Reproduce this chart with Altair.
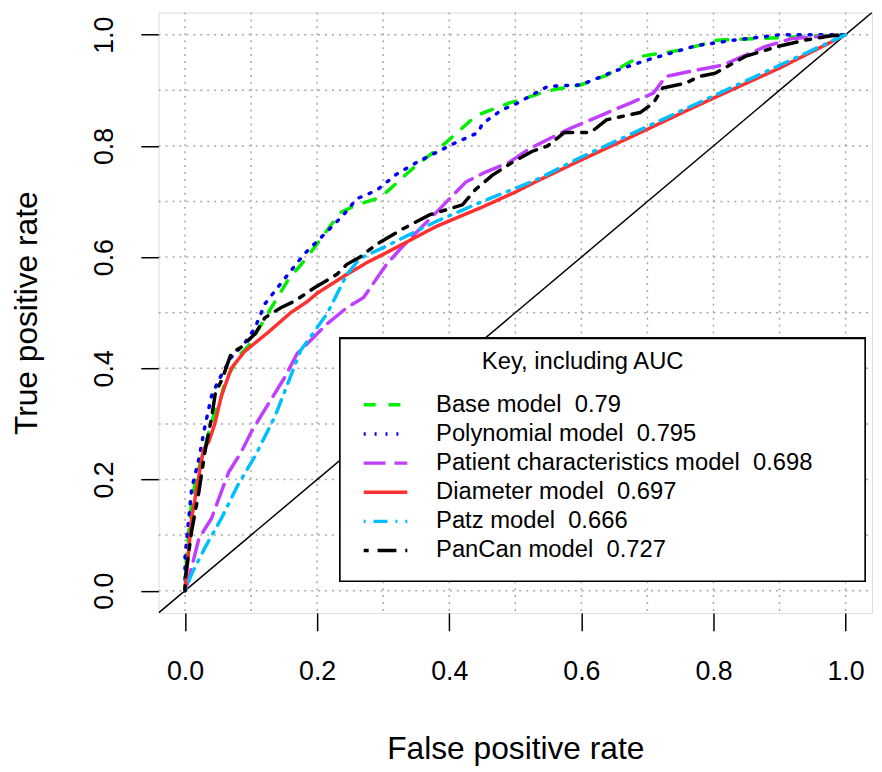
import altair as alt
import pandas as pd

NB = "\u00a0"
names = ["Base model" + NB + " 0.79", "Polynomial model" + NB + " 0.795",
         "Patient characteristics model" + NB + " 0.698", "Diameter model" + NB + " 0.697",
         "Patz model" + NB + " 0.666", "PanCan model" + NB + " 0.727"]
legend_title = "Key, including AUC"
colors = ["#00EE00", "#0000EE", "#BF3EFF", "#FF3030", "#00BFFF", "#000000"]
dashes = [[12, 13], [2, 9], [22, 9], [1, 0], [2, 8, 14, 8], [5, 9, 19, 9]]

base_x = [0, 0.003, 0.009, 0.016, 0.025, 0.036, 0.046, 0.051, 0.061, 0.076, 0.085, 0.096,
          0.126, 0.155, 0.185, 0.21, 0.235, 0.26, 0.29, 0.305, 0.35, 0.395, 0.44, 0.49,
          0.5, 0.549, 0.6, 0.638, 0.689, 0.749, 0.788, 0.803, 0.903, 1.0]
base_y = [0, 0.071, 0.148, 0.2, 0.237, 0.285, 0.326, 0.33, 0.379, 0.409, 0.427, 0.44,
          0.50, 0.557, 0.60, 0.64, 0.68, 0.694, 0.705, 0.717, 0.765, 0.806, 0.854, 0.877,
          0.88, 0.899, 0.91, 0.927, 0.961, 0.972, 0.984, 0.99, 0.995, 1.0]

poly_x = [0, 0.0, 0.01, 0.021, 0.03, 0.04, 0.051, 0.07, 0.09, 0.106, 0.121, 0.14, 0.18,
          0.215, 0.24, 0.26, 0.29, 0.32, 0.35, 0.38, 0.41, 0.444, 0.45, 0.48, 0.5, 0.549,
          0.6, 0.649, 0.698, 0.773, 0.83, 0.873, 0.9, 1.0]
poly_y = [0, 0.06, 0.183, 0.237, 0.295, 0.35, 0.379, 0.42, 0.445, 0.473, 0.516, 0.545, 0.605,
          0.646, 0.676, 0.705, 0.72, 0.749, 0.77, 0.788, 0.806, 0.824, 0.84, 0.865, 0.875, 0.907,
          0.91, 0.934, 0.954, 0.98, 0.99, 0.996, 1.0, 1.0]

pat_x = [0, 0.006, 0.021, 0.04, 0.066, 0.085, 0.1, 0.121, 0.151, 0.17, 0.19, 0.215, 0.245,
         0.27, 0.305, 0.33, 0.38, 0.425, 0.455, 0.49, 0.52, 0.58, 0.614, 0.674, 0.709, 0.728,
         0.764, 0.813, 0.877, 0.918, 1.0]
pat_y = [0, 0.023, 0.094, 0.13, 0.213, 0.249, 0.285, 0.326, 0.384, 0.427, 0.45, 0.48, 0.509,
         0.527, 0.587, 0.62, 0.68, 0.735, 0.753, 0.77, 0.794, 0.83, 0.847, 0.877, 0.895, 0.925,
         0.934, 0.945, 0.978, 0.993, 1.0]

diam_x = [0, 0.01, 0.02, 0.028, 0.036, 0.045, 0.055, 0.07, 0.09, 0.126, 0.16, 0.185, 0.2,
          0.245, 0.275, 0.3, 0.38, 0.45, 0.5, 0.53, 0.6, 0.7, 0.753, 0.8, 0.9, 1.0]
diam_y = [0, 0.13, 0.2, 0.255, 0.268, 0.3, 0.35, 0.40, 0.43, 0.465, 0.50, 0.52, 0.535,
          0.569, 0.59, 0.605, 0.655, 0.69, 0.717, 0.735, 0.775, 0.83, 0.86, 0.886, 0.94, 1.0]

patz_x = [0, 0.01, 0.03, 0.055, 0.08, 0.106, 0.136, 0.175, 0.215, 0.245, 0.265, 0.3, 0.38,
          0.45, 0.53, 0.6, 0.7, 0.8, 0.9, 1.0]
patz_y = [0, 0.03, 0.077, 0.13, 0.19, 0.242, 0.313, 0.432, 0.498, 0.569, 0.598, 0.617, 0.664,
          0.70, 0.738, 0.78, 0.835, 0.89, 0.945, 1.0]

pan_x = [0, 0.0, 0.01, 0.021, 0.03, 0.04, 0.046, 0.056, 0.07, 0.085, 0.106, 0.121, 0.145,
         0.166, 0.196, 0.23, 0.245, 0.265, 0.29, 0.33, 0.37, 0.42, 0.44, 0.465, 0.495, 0.525,
         0.549, 0.574, 0.614, 0.638, 0.689, 0.709, 0.723, 0.758, 0.779, 0.803, 0.848, 0.898,
         0.937, 0.978, 1.0]
pan_y = [0, 0.02, 0.107, 0.178, 0.249, 0.31, 0.356, 0.38, 0.427, 0.438, 0.462, 0.491, 0.509,
         0.521, 0.545, 0.569, 0.587, 0.6, 0.623, 0.651, 0.676, 0.694, 0.722, 0.747, 0.77, 0.79,
         0.80, 0.824, 0.824, 0.847, 0.86, 0.877, 0.904, 0.913, 0.925, 0.931, 0.961, 0.979,
         0.99, 0.998, 1.0]

grid_vals = [0, 0.1, 0.2, 0.3, 0.4, 0.5, 0.6, 0.7, 0.8, 0.9, 1.0]
tick_vals = [0, 0.2, 0.4, 0.6, 0.8, 1.0]
diag_vals = [-0.04, 1.04]

series = [(base_x, base_y), (poly_x, poly_y), (pat_x, pat_y),
          (diam_x, diam_y), (patz_x, patz_y), (pan_x, pan_y)]
rows = []
for name, (xs, ys) in zip(names, series):
    for i, (a, b) in enumerate(zip(xs, ys)):
        rows.append({"series": name, "fpr": a, "tpr": b, "idx": i})
df = pd.DataFrame(rows)
grid_df = pd.DataFrame({"g": grid_vals})
diag_df = pd.DataFrame({"d": diag_vals})

FONT = "Liberation Sans"
W, H = 720, 606
sc = alt.Scale(domain=[-0.04, 1.04], nice=False, zero=False)

ax_x = alt.Axis(values=tick_vals, format=".1f", grid=False, domain=False,
                tickColor="black", tickWidth=1.5, tickSize=18,
                labelFontSize=27, labelPadding=28, labelColor="black", labelFont=FONT,
                title="False positive rate", titleFontSize=32, titleFont=FONT,
                titleFontWeight="normal", titleColor="black",
                titleX=360, titleY=137, titleBaseline="middle", titleAlign="center")
ax_y = alt.Axis(values=tick_vals, format=".1f", grid=False, domain=False,
                tickColor="black", tickWidth=1.5, tickSize=18,
                labelFontSize=27, labelPadding=29, labelColor="black", labelFont=FONT,
                labelAngle=270, labelAlign="center", labelBaseline="alphabetic",
                title="True positive rate", titleFontSize=32, titleFont=FONT,
                titleFontWeight="normal", titleColor="black", titleAngle=270,
                titleX=-133, titleY=303, titleBaseline="middle", titleAlign="center")


def X(f):
    return alt.X(f"{f}:Q", scale=sc, axis=ax_x)


def Y(f):
    return alt.Y(f"{f}:Q", scale=sc, axis=ax_y)


gridv = alt.Chart(grid_df).mark_rule(color="#a8a8a8", strokeWidth=1.5, strokeDash=[2, 5]).encode(
    x=X("g"), y=alt.value(0), y2=alt.value(H))
gridh = alt.Chart(grid_df).mark_rule(color="#a8a8a8", strokeWidth=1.5, strokeDash=[2, 5]).encode(
    y=Y("g"), x=alt.value(0), x2=alt.value(W))
diag = alt.Chart(diag_df).mark_line(color="black", strokeWidth=1.5, clip=True).encode(
    x=X("d"), y=Y("d"))

leg = alt.Legend(title=legend_title, orient="none", legendX=183, legendY=329,
                 symbolType="M-2.2,0H2.2", symbolSize=400, symbolStrokeWidth=3.5,
                 labelFontSize=24, labelFont=FONT, labelColor="black", labelLimit=800,
                 titleFontSize=24, titleFont=FONT, titleColor="black", titleFontWeight="normal",
                 titleLimit=800, titleAnchor="middle", titleAlign="center", titlePadding=19,
                 padding=12, rowPadding=5.4, labelOffset=39, symbolOffset=22)

curves = alt.Chart(df).mark_line(strokeWidth=3.5, strokeCap="round", clip=True).encode(
    x=X("fpr"), y=Y("tpr"),
    color=alt.Color("series:N", scale=alt.Scale(domain=names, range=colors), legend=leg),
    strokeDash=alt.StrokeDash("series:N", scale=alt.Scale(domain=names, range=dashes), legend=leg),
    order="idx:Q",
)

# white legend frame (drawn above the curves, below the legend entries)
frame = alt.Chart(grid_df).mark_rect(fill="white", stroke="black", strokeWidth=1.5).encode(
    x=alt.value(183), x2=alt.value(713), y=alt.value(329), y2=alt.value(574))

chart = alt.layer(gridv, gridh, diag, curves, frame).properties(
    width=W, height=H,
    autosize=alt.AutoSizeParams(type="none"),
    padding={"left": 152, "top": 1, "right": 2, "bottom": 156},
).configure_view(stroke="black", strokeWidth=2).configure(background="white")

chart.save("out.html", embed_options={"renderer": "svg", "actions": False})
